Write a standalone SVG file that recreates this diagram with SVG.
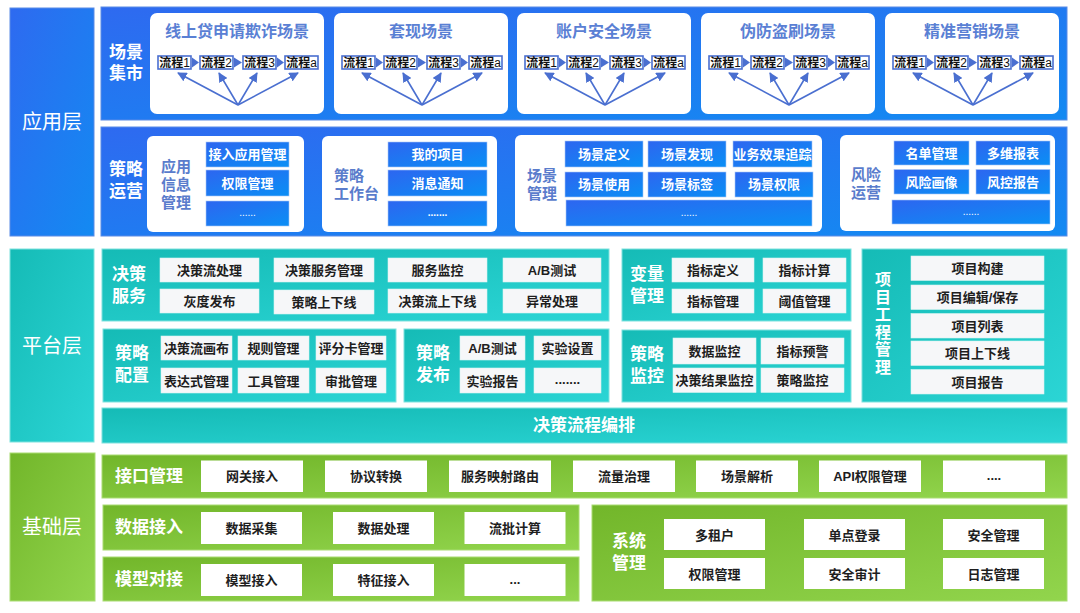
<svg xmlns="http://www.w3.org/2000/svg" width="1080" height="613" viewBox="0 0 1080 613">
<defs>
<linearGradient id="gBlue" x1="0" y1="0" x2="1" y2="1"><stop offset="0" stop-color="#2d66f0"/><stop offset="1" stop-color="#0a8ff5"/></linearGradient>
<linearGradient id="gBlueP" x1="0" y1="0" x2="1" y2="1"><stop offset="0" stop-color="#2e6af0"/><stop offset="1" stop-color="#138af2"/></linearGradient>
<linearGradient id="gTeal" x1="0" y1="0" x2="1" y2="1"><stop offset="0" stop-color="#15bbb6"/><stop offset="1" stop-color="#2bd5d5"/></linearGradient>
<linearGradient id="gGreen" x1="0" y1="0" x2="1" y2="1"><stop offset="0" stop-color="#72b62a"/><stop offset="1" stop-color="#92d54d"/></linearGradient>
<marker id="ah" viewBox="0 0 10 10" refX="9" refY="5" markerWidth="6" markerHeight="6" orient="auto-start-reverse"><path d="M0,0 L10,5 L0,10 z" fill="#4a6fd0"/></marker>
</defs>
<style>
text{font-family:"Liberation Sans","Noto Sans CJK SC",sans-serif;}
.layerB{fill:url(#gBlueP);stroke:#5a8be6;stroke-width:1}
.layerT{fill:url(#gTeal);stroke:#7fe2de;stroke-width:1}
.layerG{fill:url(#gGreen);stroke:#a9dc72;stroke-width:1}
.pB{fill:url(#gBlueP);stroke:#5a8be6;stroke-width:1}
.pT{fill:url(#gTeal);stroke:#7fe2de;stroke-width:1}
.pG{fill:url(#gGreen);stroke:#a9dc72;stroke-width:1}
.layertxt{fill:#fff;font-size:20px;text-anchor:middle}
.lbl{fill:#fff;font-size:17px;font-weight:bold;text-anchor:middle}
.lblL{fill:#fff;font-size:17px;font-weight:bold}
.vlbl{fill:#fff;font-size:16px;font-weight:bold;writing-mode:vertical-rl;letter-spacing:1.6px;font-family:"Noto Sans CJK SC",sans-serif}
.card{fill:#fff}
.ttl{fill:#5a80d4;font-size:16px;font-weight:bold;text-anchor:middle}
.sub{fill:#5a7ccc;font-size:15px;font-weight:bold;text-anchor:middle}
.subL{fill:#5a7ccc;font-size:15px;font-weight:bold}
.bb{fill:url(#gBlue);stroke:#a9c6f5;stroke-width:0.6}
.bt{fill:#fff;font-size:13px;font-weight:bold;text-anchor:middle}
.bd{fill:#fff;font-size:10px;text-anchor:middle}
.wb{fill:#f6f7f9;stroke:#d5f3f1;stroke-width:0.6}
.gw{fill:#fff}
.wt{fill:#1e1e1e;font-size:13px;font-weight:bold;text-anchor:middle}
.fb{fill:#fff;stroke:#4a6fd0;stroke-width:1.6}
.ft{fill:#111;font-size:12px;text-anchor:middle}
.tri{fill:#4a6fd0}
.conn{stroke:#4a6fd0;stroke-width:1.6;fill:none;marker-end:url(#ah)}
</style>
<rect width="1080" height="613" fill="#fff"/>

<!-- ===== Application layer ===== -->
<g id="layer-app">
<rect class="layerB" x="10" y="8" width="84" height="228"/>
<text class="layertxt" x="52" y="129">应用层</text>
</g>

<g id="panel-scene-market">
<rect class="pB" x="101" y="7" width="966" height="113"/>
<text class="lbl" x="126" y="58">场景</text>
<text class="lbl" x="126" y="79">集市</text>
</g>

<g id="scene-1">
<rect class="card" x="150" y="13" width="174" height="101" rx="7"/>
<text class="ttl" x="237" y="37">线上贷申请欺诈场景</text>
<rect class="fb" x="158" y="56" width="33" height="13"/><text class="ft" x="174.5" y="67"><tspan font-weight="bold">流程</tspan>1</text>
<polygon class="tri" points="192,57.5 199,62.5 192,67.5"/>
<rect class="fb" x="200" y="56" width="33" height="13"/><text class="ft" x="216.5" y="67"><tspan font-weight="bold">流程</tspan>2</text>
<polygon class="tri" points="234,57.5 242,62.5 234,67.5"/>
<rect class="fb" x="243" y="56" width="33" height="13"/><text class="ft" x="259.5" y="67"><tspan font-weight="bold">流程</tspan>3</text>
<polygon class="tri" points="277,57.5 284,62.5 277,67.5"/>
<rect class="fb" x="285" y="56" width="33" height="13"/><text class="ft" x="301.5" y="67"><tspan font-weight="bold">流程</tspan>a</text>
</g>

<g id="scene-2">
<rect class="card" x="334" y="13" width="174" height="101" rx="7"/>
<text class="ttl" x="421" y="37">套现场景</text>
<rect class="fb" x="342" y="56" width="33" height="13"/><text class="ft" x="358.5" y="67"><tspan font-weight="bold">流程</tspan>1</text>
<polygon class="tri" points="376,57.5 383,62.5 376,67.5"/>
<rect class="fb" x="384" y="56" width="33" height="13"/><text class="ft" x="400.5" y="67"><tspan font-weight="bold">流程</tspan>2</text>
<polygon class="tri" points="418,57.5 426,62.5 418,67.5"/>
<rect class="fb" x="427" y="56" width="33" height="13"/><text class="ft" x="443.5" y="67"><tspan font-weight="bold">流程</tspan>3</text>
<polygon class="tri" points="461,57.5 468,62.5 461,67.5"/>
<rect class="fb" x="469" y="56" width="33" height="13"/><text class="ft" x="485.5" y="67"><tspan font-weight="bold">流程</tspan>a</text>
</g>

<g id="scene-3">
<rect class="card" x="517" y="13" width="174" height="101" rx="7"/>
<text class="ttl" x="604" y="37">账户安全场景</text>
<rect class="fb" x="525" y="56" width="33" height="13"/><text class="ft" x="541.5" y="67"><tspan font-weight="bold">流程</tspan>1</text>
<polygon class="tri" points="559,57.5 566,62.5 559,67.5"/>
<rect class="fb" x="567" y="56" width="33" height="13"/><text class="ft" x="583.5" y="67"><tspan font-weight="bold">流程</tspan>2</text>
<polygon class="tri" points="601,57.5 609,62.5 601,67.5"/>
<rect class="fb" x="610" y="56" width="33" height="13"/><text class="ft" x="626.5" y="67"><tspan font-weight="bold">流程</tspan>3</text>
<polygon class="tri" points="644,57.5 651,62.5 644,67.5"/>
<rect class="fb" x="652" y="56" width="33" height="13"/><text class="ft" x="668.5" y="67"><tspan font-weight="bold">流程</tspan>a</text>
</g>

<g id="scene-4">
<rect class="card" x="701" y="13" width="174" height="101" rx="7"/>
<text class="ttl" x="788" y="37">伪防盗刷场景</text>
<rect class="fb" x="709" y="56" width="33" height="13"/><text class="ft" x="725.5" y="67"><tspan font-weight="bold">流程</tspan>1</text>
<polygon class="tri" points="743,57.5 750,62.5 743,67.5"/>
<rect class="fb" x="751" y="56" width="33" height="13"/><text class="ft" x="767.5" y="67"><tspan font-weight="bold">流程</tspan>2</text>
<polygon class="tri" points="785,57.5 793,62.5 785,67.5"/>
<rect class="fb" x="794" y="56" width="33" height="13"/><text class="ft" x="810.5" y="67"><tspan font-weight="bold">流程</tspan>3</text>
<polygon class="tri" points="828,57.5 835,62.5 828,67.5"/>
<rect class="fb" x="836" y="56" width="33" height="13"/><text class="ft" x="852.5" y="67"><tspan font-weight="bold">流程</tspan>a</text>
</g>

<g id="scene-5">
<rect class="card" x="885" y="13" width="174" height="101" rx="7"/>
<text class="ttl" x="972" y="37">精准营销场景</text>
<rect class="fb" x="893" y="56" width="33" height="13"/><text class="ft" x="909.5" y="67"><tspan font-weight="bold">流程</tspan>1</text>
<polygon class="tri" points="927,57.5 934,62.5 927,67.5"/>
<rect class="fb" x="935" y="56" width="33" height="13"/><text class="ft" x="951.5" y="67"><tspan font-weight="bold">流程</tspan>2</text>
<polygon class="tri" points="969,57.5 977,62.5 969,67.5"/>
<rect class="fb" x="978" y="56" width="33" height="13"/><text class="ft" x="994.5" y="67"><tspan font-weight="bold">流程</tspan>3</text>
<polygon class="tri" points="1012,57.5 1019,62.5 1012,67.5"/>
<rect class="fb" x="1020" y="56" width="33" height="13"/><text class="ft" x="1036.5" y="67"><tspan font-weight="bold">流程</tspan>a</text>
</g>

<g id="connectors">
<path class="conn" d="M238,105 L178,73"/><path class="conn" d="M238,105 L219,73"/><path class="conn" d="M238,105 L257,73"/><path class="conn" d="M238,105 L298,73"/>
<path class="conn" d="M422,105 L362,73"/><path class="conn" d="M422,105 L403,73"/><path class="conn" d="M422,105 L441,73"/><path class="conn" d="M422,105 L482,73"/>
<path class="conn" d="M605,105 L545,73"/><path class="conn" d="M605,105 L586,73"/><path class="conn" d="M605,105 L624,73"/><path class="conn" d="M605,105 L665,73"/>
<path class="conn" d="M789,105 L729,73"/><path class="conn" d="M789,105 L770,73"/><path class="conn" d="M789,105 L808,73"/><path class="conn" d="M789,105 L849,73"/>
<path class="conn" d="M973,105 L913,73"/><path class="conn" d="M973,105 L954,73"/><path class="conn" d="M973,105 L992,73"/><path class="conn" d="M973,105 L1033,73"/>
</g>

<g id="panel-strategy-ops">
<rect class="pB" x="101" y="127" width="966" height="109"/>
<text class="lbl" x="126" y="175">策略</text>
<text class="lbl" x="126" y="197">运营</text>
</g>

<g id="app-info-mgmt">
<rect class="card" x="147" y="136" width="157" height="96" rx="6"/>
<text class="sub" x="176" y="172">应用</text>
<text class="sub" x="176" y="190">信息</text>
<text class="sub" x="176" y="208">管理</text>
<rect class="bb" x="206" y="142" width="83" height="25"/><text class="bt" x="247.5" y="159">接入应用管理</text>
<rect class="bb" x="206" y="170" width="83" height="26"/><text class="bt" x="247.5" y="188">权限管理</text>
<rect class="bb" x="206" y="201" width="83" height="25"/><text class="bd" x="247.5" y="216">......</text>
</g>

<g id="strategy-workbench">
<rect class="card" x="322" y="136" width="175" height="96" rx="6"/>
<text class="subL" x="334" y="181">策略</text>
<text class="subL" x="334" y="199">工作台</text>
<rect class="bb" x="388" y="142" width="99" height="25"/><text class="bt" x="437.5" y="159">我的项目</text>
<rect class="bb" x="388" y="170" width="99" height="26"/><text class="bt" x="437.5" y="188">消息通知</text>
<rect class="bb" x="388" y="201" width="99" height="25"/><text class="bd" x="437.5" y="216" font-weight="bold">.......</text>
</g>

<g id="scene-mgmt">
<rect class="card" x="515" y="135" width="307" height="97" rx="6"/>
<text class="sub" x="542" y="181">场景</text>
<text class="sub" x="542" y="199">管理</text>
<rect class="bb" x="565" y="141" width="78" height="26"/><text class="bt" x="604" y="159">场景定义</text>
<rect class="bb" x="648" y="141" width="78" height="26"/><text class="bt" x="687" y="159">场景发现</text>
<rect class="bb" x="733" y="141" width="79" height="26"/><text class="bt" x="772.5" y="159">业务效果追踪</text>
<rect class="bb" x="565" y="172" width="78" height="25"/><text class="bt" x="604" y="189">场景使用</text>
<rect class="bb" x="648" y="172" width="78" height="25"/><text class="bt" x="687" y="189">场景标签</text>
<rect class="bb" x="735" y="172" width="78" height="25"/><text class="bt" x="774" y="189">场景权限</text>
<rect class="bb" x="566" y="200" width="246" height="26"/><text class="bd" x="689" y="216">......</text>
</g>

<g id="risk-ops">
<rect class="card" x="840" y="135" width="215" height="96" rx="6"/>
<text class="sub" x="866" y="180">风险</text>
<text class="sub" x="866" y="198">运营</text>
<rect class="bb" x="894" y="141" width="75" height="24"/><text class="bt" x="931.5" y="158">名单管理</text>
<rect class="bb" x="976" y="141" width="74" height="24"/><text class="bt" x="1013" y="158">多维报表</text>
<rect class="bb" x="894" y="169.5" width="75" height="24.5"/><text class="bt" x="931.5" y="186.5">风险画像</text>
<rect class="bb" x="976" y="169.5" width="74" height="24.5"/><text class="bt" x="1013" y="186.5">风控报告</text>
<rect class="bb" x="892" y="200" width="158" height="24"/><text class="bd" x="971" y="215">......</text>
</g>

<!-- ===== Platform layer ===== -->
<g id="layer-platform">
<rect class="layerT" x="10" y="249" width="84" height="193"/>
<text class="layertxt" x="52" y="353">平台层</text>
</g>

<g id="decision-service">
<rect class="pT" x="102" y="249" width="507" height="72"/>
<text class="lbl" x="129" y="280">决策</text>
<text class="lbl" x="129" y="302">服务</text>
<rect class="wb" x="160" y="258" width="99" height="24"/><text class="wt" x="209.5" y="275">决策流处理</text>
<rect class="wb" x="274" y="258" width="100" height="24"/><text class="wt" x="324" y="275">决策服务管理</text>
<rect class="wb" x="388" y="258" width="99" height="24"/><text class="wt" x="437.5" y="275">服务监控</text>
<rect class="wb" x="503" y="258" width="98" height="24"/><text class="wt" x="552" y="275" font-weight="normal">A/B测试</text>
<rect class="wb" x="160" y="289" width="99" height="24"/><text class="wt" x="209.5" y="306">灰度发布</text>
<rect class="wb" x="274" y="290" width="100" height="24"/><text class="wt" x="324" y="307">策略上下线</text>
<rect class="wb" x="388" y="289" width="99" height="24"/><text class="wt" x="437.5" y="306">决策流上下线</text>
<rect class="wb" x="503" y="289" width="98" height="24"/><text class="wt" x="552" y="306">异常处理</text>
</g>

<g id="variable-mgmt">
<rect class="pT" x="622" y="249" width="229" height="72"/>
<text class="lbl" x="647" y="280">变量</text>
<text class="lbl" x="647" y="302">管理</text>
<rect class="wb" x="672" y="258" width="82" height="24"/><text class="wt" x="713" y="275">指标定义</text>
<rect class="wb" x="763" y="258" width="83" height="24"/><text class="wt" x="804.5" y="275">指标计算</text>
<rect class="wb" x="672" y="289" width="82" height="24"/><text class="wt" x="713" y="306">指标管理</text>
<rect class="wb" x="763" y="289" width="83" height="24"/><text class="wt" x="804.5" y="306">阈值管理</text>
</g>

<g id="project-mgmt">
<rect class="pT" x="862" y="249" width="205" height="153"/>
<text class="vlbl" x="883" y="271">项目工程管理</text>
<rect class="wb" x="911" y="256" width="133" height="24.5"/><text class="wt" x="977.5" y="273">项目构建</text>
<rect class="wb" x="911" y="285" width="133" height="24.5"/><text class="wt" x="977.5" y="302">项目编辑/保存</text>
<rect class="wb" x="911" y="313.5" width="133" height="24.5"/><text class="wt" x="977.5" y="330.5">项目列表</text>
<rect class="wb" x="911" y="341" width="133" height="24.5"/><text class="wt" x="977.5" y="358">项目上下线</text>
<rect class="wb" x="911" y="369.5" width="133" height="24.5"/><text class="wt" x="977.5" y="386.5">项目报告</text>
</g>

<g id="strategy-config">
<rect class="pT" x="103" y="329" width="293" height="73"/>
<text class="lbl" x="132" y="359">策略</text>
<text class="lbl" x="132" y="381">配置</text>
<rect class="wb" x="161" y="336" width="71" height="24"/><text class="wt" x="196.5" y="353">决策流画布</text>
<rect class="wb" x="238" y="336" width="71" height="24"/><text class="wt" x="273.5" y="353">规则管理</text>
<rect class="wb" x="316" y="336" width="70" height="24"/><text class="wt" x="351" y="353">评分卡管理</text>
<rect class="wb" x="161" y="368" width="71" height="25"/><text class="wt" x="196.5" y="385.5">表达式管理</text>
<rect class="wb" x="238" y="368" width="71" height="25"/><text class="wt" x="273.5" y="385.5">工具管理</text>
<rect class="wb" x="316" y="368" width="70" height="25"/><text class="wt" x="351" y="385.5">审批管理</text>
</g>

<g id="strategy-release">
<rect class="pT" x="404" y="329" width="205" height="73"/>
<text class="lbl" x="433" y="359">策略</text>
<text class="lbl" x="433" y="381">发布</text>
<rect class="wb" x="460" y="336" width="65" height="24"/><text class="wt" x="492.5" y="353" font-weight="normal">A/B测试</text>
<rect class="wb" x="534" y="336" width="67" height="24"/><text class="wt" x="567.5" y="353">实验设置</text>
<rect class="wb" x="460" y="368" width="65" height="25"/><text class="wt" x="492.5" y="385.5">实验报告</text>
<rect class="wb" x="534" y="368" width="67" height="25"/><text class="wt" x="567.5" y="384" font-weight="normal" font-size="11">.......</text>
</g>

<g id="strategy-monitor">
<rect class="pT" x="622" y="330" width="229" height="72"/>
<text class="lbl" x="647" y="360">策略</text>
<text class="lbl" x="647" y="382">监控</text>
<rect class="wb" x="673" y="338" width="83" height="26"/><text class="wt" x="714.5" y="356">数据监控</text>
<rect class="wb" x="761" y="338" width="83" height="26"/><text class="wt" x="802.5" y="356">指标预警</text>
<rect class="wb" x="673" y="368" width="83" height="24.5"/><text class="wt" x="714.5" y="385">决策结果监控</text>
<rect class="wb" x="761" y="368" width="83" height="24.5"/><text class="wt" x="802.5" y="385">策略监控</text>
</g>

<g id="decision-orchestration">
<rect class="pT" x="102" y="408" width="965" height="35"/>
<text class="lbl" x="584" y="431">决策流程编排</text>
</g>

<!-- ===== Base layer ===== -->
<g id="layer-base">
<rect class="layerG" x="10" y="453" width="85" height="148"/>
<text class="layertxt" x="52" y="534">基础层</text>
</g>

<g id="interface-mgmt">
<rect class="pG" x="102" y="455" width="965" height="43"/>
<text class="lblL" x="115" y="482">接口管理</text>
<rect class="gw" x="201" y="460.5" width="102" height="31.5"/><text class="wt" x="252" y="481">网关接入</text>
<rect class="gw" x="325" y="460.5" width="102" height="31.5"/><text class="wt" x="376" y="481">协议转换</text>
<rect class="gw" x="449" y="460.5" width="102" height="31.5"/><text class="wt" x="500" y="481">服务映射路由</text>
<rect class="gw" x="573" y="460.5" width="102" height="31.5"/><text class="wt" x="624" y="481">流量治理</text>
<rect class="gw" x="696" y="460.5" width="102" height="31.5"/><text class="wt" x="747" y="481">场景解析</text>
<rect class="gw" x="819" y="460.5" width="102" height="31.5"/><text class="wt" x="870" y="481" font-weight="normal">API权限管理</text>
<rect class="gw" x="943" y="460.5" width="102" height="31.5"/><text class="wt" x="994" y="480" font-weight="normal" font-size="11">....</text>
</g>

<g id="data-access">
<rect class="pG" x="103" y="505" width="476" height="45"/>
<text class="lblL" x="115" y="533">数据接入</text>
<rect class="gw" x="201" y="512" width="101" height="32"/><text class="wt" x="251.5" y="533">数据采集</text>
<rect class="gw" x="333" y="512" width="101" height="32"/><text class="wt" x="383.5" y="533">数据处理</text>
<rect class="gw" x="464.5" y="512" width="101" height="32"/><text class="wt" x="515" y="533">流批计算</text>
</g>

<g id="model-docking">
<rect class="pG" x="103" y="557" width="476" height="44"/>
<text class="lblL" x="115" y="585">模型对接</text>
<rect class="gw" x="201" y="564" width="101" height="32"/><text class="wt" x="251.5" y="585">模型接入</text>
<rect class="gw" x="333" y="564" width="101" height="32"/><text class="wt" x="383.5" y="585">特征接入</text>
<rect class="gw" x="464.5" y="564" width="101" height="32"/><text class="wt" x="515" y="584" font-weight="normal" font-size="11">...</text>
</g>

<g id="system-mgmt">
<rect class="pG" x="592" y="505" width="475" height="96"/>
<text class="lbl" x="629" y="547">系统</text>
<text class="lbl" x="629" y="569">管理</text>
<rect class="gw" x="664" y="519" width="101" height="31"/><text class="wt" x="714.5" y="539.5">多租户</text>
<rect class="gw" x="804" y="519" width="101" height="31"/><text class="wt" x="854.5" y="539.5">单点登录</text>
<rect class="gw" x="943" y="519" width="101" height="31"/><text class="wt" x="993.5" y="539.5">安全管理</text>
<rect class="gw" x="664" y="558" width="101" height="31"/><text class="wt" x="714.5" y="578.5">权限管理</text>
<rect class="gw" x="804" y="558" width="101" height="31"/><text class="wt" x="854.5" y="578.5">安全审计</text>
<rect class="gw" x="943" y="558" width="101" height="31"/><text class="wt" x="993.5" y="578.5">日志管理</text>
</g>
</svg>
